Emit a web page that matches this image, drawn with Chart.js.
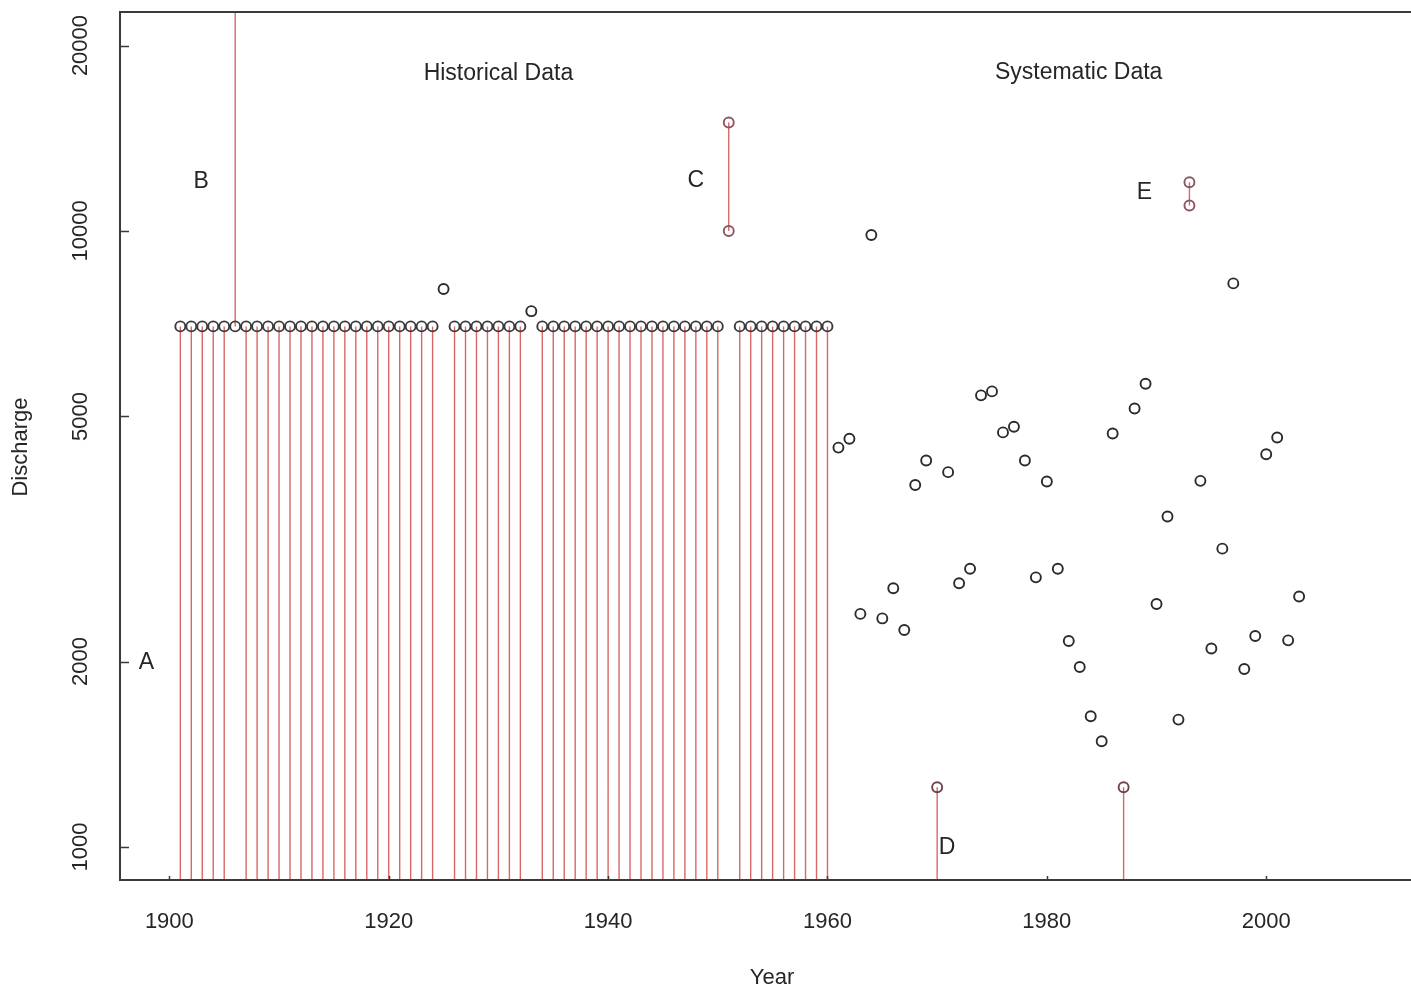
<!DOCTYPE html>
<html>
<head>
<meta charset="utf-8">
<title>Discharge: historical and systematic data</title>
<script src="https://cdn.jsdelivr.net/npm/chart.js@4.4.1/dist/chart.umd.min.js"></script>
<style>
  html, body { margin: 0; padding: 0; background: #fff; overflow: hidden; }
  #flood { display: block; }
</style>
</head>
<body>
<canvas id="flood" width="1411" height="990"></canvas>
<script>
// axis limits + ticks (log y)
const xMin = 1895.5, xMax = 2013.2;
const yMin = 884, yMax = 22670;
const xTicks = [1900, 1920, 1940, 1960, 1980, 2000];
const yTicks = [1000, 2000, 5000, 10000, 20000];

// historical period: floods only known to stay under the threshold
const threshold = 7000;
const censoredYears = [
  1901, 1902, 1903, 1904, 1905, 1907, 1908, 1909, 1910, 1911, 1912, 1913,
  1914, 1915, 1916, 1917, 1918, 1919, 1920, 1921, 1922, 1923, 1924,
  1926, 1927, 1928, 1929, 1930, 1931, 1932,
  1934, 1935, 1936, 1937, 1938, 1939, 1940, 1941, 1942, 1943, 1944, 1945,
  1946, 1947, 1948, 1949, 1950,
  1952, 1953, 1954, 1955, 1956, 1957, 1958, 1959, 1960
];
// B: known to be above the threshold
const aboveYears = [1906];
// historical peaks known exactly
const histYears = [1925, 1933];
const histFlows = [8050, 7410];
// C, E: interval estimates
const intervalYears = [1951, 1993];
const intervalLow = [10000, 11000];
const intervalHigh = [15000, 12000];
// D: below the perception level
const belowYears = [1970, 1987];
const belowFlows = [1250, 1250];
// systematic record
const sysYears = [
  1961, 1962, 1963, 1964, 1965, 1966, 1967, 1968, 1969, 1971, 1972, 1973,
  1974, 1975, 1976, 1977, 1978, 1979, 1980, 1981, 1982, 1983, 1984, 1985,
  1986, 1988, 1989, 1990, 1991, 1992, 1994, 1995, 1996, 1997, 1998, 1999,
  2000, 2001, 2002, 2003
];
const sysFlows = [
  4450, 4600, 2390, 9850, 2350, 2630, 2250, 3870, 4240, 4060, 2680, 2830,
  5410, 5490, 4710, 4810, 4240, 2740, 3920, 2830, 2160, 1960, 1630, 1485,
  4690, 5150, 5650, 2480, 3440, 1610, 3930, 2100, 3050, 8220, 1945, 2200,
  4340, 4620, 2165, 2550
];

// text labels in the plot (data coords)
const labelTexts = ['Historical Data', 'Systematic Data', 'A', 'B', 'C', 'D', 'E'];
const labelYears = [1930, 1982.9, 1897.9, 1902.9, 1948, 1970.9, 1988.9];
const labelFlows = [17990, 18100, 1990, 12010, 12050, 996, 11530];

const FONT = '"Liberation Sans", Arial, Helvetica, sans-serif';
const INK = '#262626';
const RED = 'rgb(216, 104, 104)';

// red segments, broken by nulls
function segmentPoints() {
  const pts = [];
  const add = (yr, lo, hi) => pts.push({x: yr, y: lo}, {x: yr, y: hi}, {x: yr, y: null});
  censoredYears.forEach(yr => add(yr, yMin, threshold));
  aboveYears.forEach(yr => add(yr, threshold, yMax));
  intervalYears.forEach((yr, i) => add(yr, intervalLow[i], intervalHigh[i]));
  belowYears.forEach((yr, i) => add(yr, yMin, belowFlows[i]));
  return pts;
}

const thresholdPts = censoredYears.concat(aboveYears).map(yr => ({x: yr, y: threshold}));
const histPts = histYears.map((yr, i) => ({x: yr, y: histFlows[i]}));
const sysPts = sysYears.map((yr, i) => ({x: yr, y: sysFlows[i]}));
const intervalPts = [];
intervalYears.forEach((yr, i) => {
  intervalPts.push({x: yr, y: intervalLow[i]}, {x: yr, y: intervalHigh[i]});
});
const belowPts = belowYears.map((yr, i) => ({x: yr, y: belowFlows[i]}));

const circle = (data, color) => ({
  data: data,
  showLine: false,
  pointRadius: 5,
  pointHoverRadius: 5,
  pointBorderWidth: 1.9,
  pointBorderColor: color,
  pointBackgroundColor: 'rgba(0,0,0,0)'
});

// frame, inward ticks and all text
const axesPlugin = {
  id: 'axesPlugin',
  afterDraw(chart) {
    const {ctx, chartArea: a, scales: {x, y}} = chart;
    ctx.save();
    ctx.strokeStyle = '#3a3a3a';
    ctx.lineWidth = 2;
    ctx.beginPath();
    ctx.moveTo(a.right + 2, a.top);
    ctx.lineTo(a.left, a.top);
    ctx.lineTo(a.left, a.bottom);
    ctx.lineTo(a.right + 2, a.bottom);
    ctx.stroke();

    ctx.lineWidth = 1.5;
    ctx.beginPath();
    xTicks.forEach(v => {
      const px = Math.round(x.getPixelForValue(v)) + 0.5;
      ctx.moveTo(px, a.bottom);
      ctx.lineTo(px, a.bottom - 4);
    });
    yTicks.forEach(v => {
      const py = Math.round(y.getPixelForValue(v)) + 0.5;
      ctx.moveTo(a.left, py);
      ctx.lineTo(a.left + 9, py);
    });
    ctx.stroke();

    ctx.fillStyle = INK;
    ctx.font = '22px ' + FONT;
    ctx.textAlign = 'center';
    ctx.textBaseline = 'middle';
    xTicks.forEach(v => ctx.fillText(String(v), x.getPixelForValue(v), 922));
    yTicks.forEach(v => {
      ctx.save();
      ctx.translate(81, y.getPixelForValue(v));
      ctx.rotate(-Math.PI / 2);
      ctx.fillText(String(v), 0, 0);
      ctx.restore();
    });

    ctx.fillText('Year', 772, 978);
    ctx.save();
    ctx.translate(21, 447);
    ctx.rotate(-Math.PI / 2);
    ctx.fillText('Discharge', 0, 0);
    ctx.restore();

    ctx.font = '23px ' + FONT;
    labelTexts.forEach((t, i) => {
      ctx.fillText(t, x.getPixelForValue(labelYears[i]), y.getPixelForValue(labelFlows[i]));
    });
    ctx.restore();
  }
};

new Chart(document.getElementById('flood'), {
  type: 'scatter',
  data: {
    datasets: [
      circle(thresholdPts, '#3a3a3a'),
      circle(histPts, '#2b2b2b'),
      circle(sysPts, '#2b2b2b'),
      circle(intervalPts, '#8a5564'),
      circle(belowPts, '#6a4450'),
      {
        data: segmentPoints(),
        showLine: true,
        spanGaps: false,
        borderColor: RED,
        borderWidth: 1.4,
        pointRadius: 0,
        pointHoverRadius: 0
      }
    ]
  },
  options: {
    responsive: false,
    devicePixelRatio: 1,
    animation: false,
    layout: {
      autoPadding: false, // otherwise point radius eats the right edge
      padding: { left: 120, top: 12, right: 0, bottom: 110 }
    },
    scales: {
      x: { type: 'linear', min: xMin, max: xMax, display: false },
      y: { type: 'logarithmic', min: yMin, max: yMax, display: false }
    },
    plugins: {
      legend: { display: false },
      tooltip: { enabled: false }
    }
  },
  plugins: [axesPlugin]
});
</script>
</body>
</html>
